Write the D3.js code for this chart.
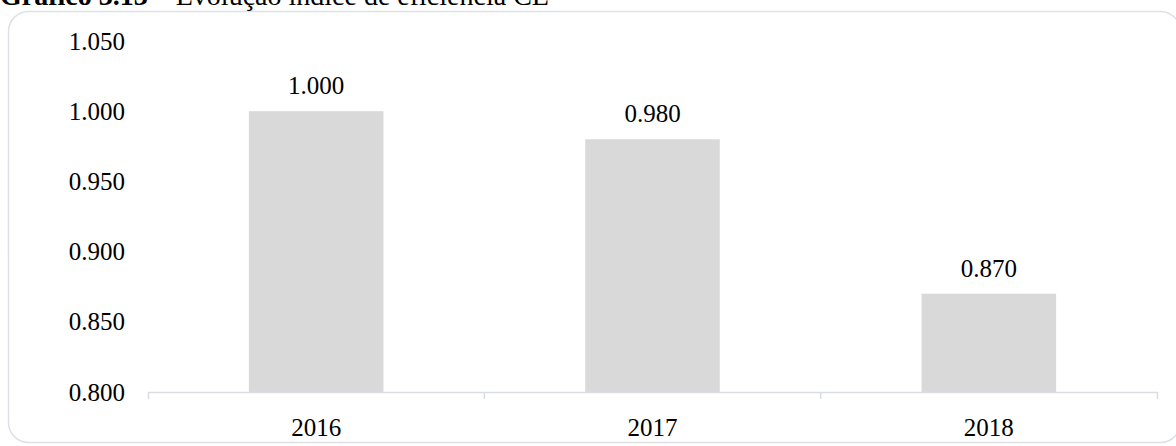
<!DOCTYPE html>
<html>
<head>
<meta charset="utf-8">
<script src="https://cdn.jsdelivr.net/npm/d3@7"></script>
<style>
  html, body { margin: 0; padding: 0; background: #fff; }
  svg { display: block; }
</style>
</head>
<body>
<svg id="chart" width="1176" height="446"></svg>
<script>
// Efficiency index by year
const years = ["2016", "2017", "2018"];
const values = [1.000, 0.980, 0.870];
const yTicks = [0.800, 0.850, 0.900, 0.950, 1.000, 1.050];

const titleBold = "Gráfico 3.13";
const titleRest = " – Evolução índice de eficiência CE";

const svg = d3.select("#chart");
const font = "'Liberation Serif', 'Times New Roman', serif";
const fmt = d3.format(".3f");

// Outer rounded frame
svg.append("rect")
  .attr("x", 8.5).attr("y", 11.5)
  .attr("width", 1172).attr("height", 431)
  .attr("rx", 20).attr("ry", 20)
  .attr("fill", "#fff")
  .attr("stroke", "#dde1e7")
  .attr("stroke-width", 1.5);

// Title (partly above the frame)
const title = svg.append("text")
  .attr("x", 0).attr("y", 5)
  .attr("font-family", font)
  .attr("font-size", 28)
  .attr("fill", "#000");
title.append("tspan").attr("font-weight", "bold").text(titleBold);
title.append("tspan").text(titleRest);

const x = d3.scaleBand()
  .domain(years)
  .range([148, 1157])
  .paddingInner(0.6)
  .paddingOuter(0.3);

const y = d3.scaleLinear()
  .domain([0.8, 1.05])
  .range([392, 41]);

// Bars
svg.append("g").selectAll("rect")
  .data(years)
  .join("rect")
  .attr("x", d => x(d))
  .attr("y", (d, i) => y(values[i]))
  .attr("width", x.bandwidth())
  .attr("height", (d, i) => y(0.8) - y(values[i]))
  .attr("fill", "#d9d9d9");

// Value labels
svg.append("g").selectAll("text")
  .data(years)
  .join("text")
  .attr("x", d => x(d) + x.bandwidth() / 2)
  .attr("y", (d, i) => y(values[i]) - 17)
  .attr("text-anchor", "middle")
  .attr("font-family", font)
  .attr("font-size", 25)
  .attr("fill", "#000")
  .text((d, i) => fmt(values[i]));

// Y axis: labels only
const yAxis = svg.append("g")
  .attr("transform", "translate(125,0)")
  .call(d3.axisLeft(y).tickValues(yTicks).tickFormat(fmt).tickSize(0).tickPadding(0));
yAxis.select(".domain").remove();
yAxis.selectAll("text")
  .attr("font-family", font)
  .attr("font-size", 25)
  .attr("fill", "#000");

// X axis: baseline with category boundary ticks
const xAxis = svg.append("g")
  .attr("transform", `translate(0,${y(0.8)})`)
  .call(d3.axisBottom(x).tickSize(0).tickSizeOuter(7).tickPadding(26));
xAxis.select(".domain")
  .attr("stroke", "#d9dde3")
  .attr("stroke-width", 1.5);
xAxis.selectAll("text")
  .attr("font-family", font)
  .attr("font-size", 25)
  .attr("fill", "#000");

// Inner boundary ticks between categories
const step = x.step();
xAxis.append("g").selectAll("line")
  .data(years.slice(1))
  .join("line")
  .attr("x1", d => x(d) - step * x.paddingInner() / 2)
  .attr("x2", d => x(d) - step * x.paddingInner() / 2)
  .attr("y1", 0).attr("y2", 7)
  .attr("stroke", "#d9dde3")
  .attr("stroke-width", 1.5);
</script>
</body>
</html>
